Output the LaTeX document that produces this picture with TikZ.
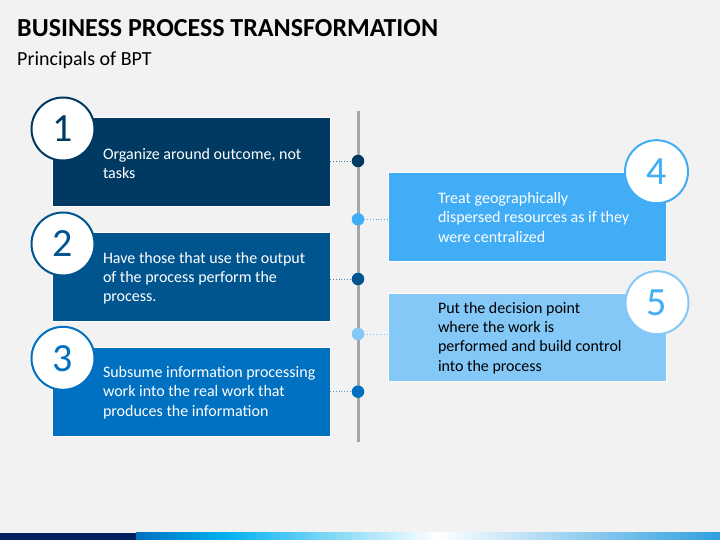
\documentclass[tikz,border=0pt]{standalone}
\usepackage{fontspec}
\setmainfont{Carlito}
\usepackage{tikz}
\usetikzlibrary{positioning}
\definecolor{bgray}{HTML}{F2F2F2}
\definecolor{navy}{HTML}{003A63}
\definecolor{midblue}{HTML}{00558F}
\definecolor{blue3}{HTML}{0070C0}
\definecolor{sky}{HTML}{41ADF6}
\definecolor{pale}{HTML}{84C8F8}
\definecolor{spinegray}{HTML}{A6A6A6}
\definecolor{bardark}{HTML}{002060}
\definecolor{barcyan}{HTML}{00B0F0}
\definecolor{barend}{HTML}{2E9FE0}
\begin{document}
\begin{tikzpicture}[x=1pt,y=-1pt,
		stepbox/.style={rectangle,draw=white,line width=0.4pt,minimum width=278pt,minimum height=89pt,inner sep=0pt},
		boxtxt/.style={align=left,inner sep=0pt,text=white,font=\fontsize{16}{19.3}\selectfont},
		numcirc/.style={circle,fill=white,draw=#1,text=#1,line width=2pt,minimum size=63pt,inner sep=0pt,font=\fontsize{40}{40}\selectfont},
		spinedot/.style={circle,minimum size=12.5pt,inner sep=0pt},
		link/.style={dotted,line width=0.8pt}]
	\fill[bgray] (0,0) rectangle (720,540);
	\useasboundingbox (0,0) rectangle (720,540);
	\node[anchor=base west,inner sep=0pt,font=\fontsize{26}{30}\selectfont\bfseries] (title) at (17,36.5) {BUSINESS PROCESS TRANSFORMATION};
	\node[anchor=base west,inner sep=0pt,font=\fontsize{20}{24}\selectfont] (subtitle) at (17,65.5) {Principals of BPT};
	\coordinate (spinetop) at (358,111);
	\coordinate (spinebot) at (358,442);
	\draw[spinegray,line width=3pt] (spinetop) -- (spinebot);
	\node[stepbox,fill=navy] (box1) at (191,162.2) {};
	\node[stepbox,fill=midblue] (box2) at (191,276.8) {};
	\node[stepbox,fill=blue3] (box3) at (191,391.7) {};
	\node[stepbox,fill=sky] (box4) at (527,216.5) {};
	\node[stepbox,fill=pale,minimum height=87.5pt] (box5) at (527,337) {};
	\node[boxtxt,right=51pt of box1.west,yshift=-1pt] (txt1) {Organize around outcome, not\\tasks};
	\node[boxtxt,right=51pt of box2.west,yshift=-1.5pt] (txt2) {Have those that use the output\\of the process perform the\\process.};
	\node[boxtxt,right=51pt of box3.west,yshift=-1pt] (txt3) {Subsume information processing\\work into the real work that\\produces the information};
	\node[boxtxt,right=50pt of box4.west,yshift=-1pt] (txt4) {Treat geographically\\dispersed resources as if they\\were centralized};
	\node[boxtxt,text=black,right=50pt of box5.west,yshift=-1pt] (txt5) {Put the decision point\\where the work is\\performed and build control\\into the process};
	\node[numcirc=navy] (num1) at (63,129) {1};
	\node[numcirc=midblue] (num2) at (63,244) {2};
	\node[numcirc=blue3] (num3) at (63,358.3) {3};
	\node[numcirc=sky] (num4) at (656.5,171.7) {4};
	\node[numcirc=pale,text=sky] (num5) at (657,302.7) {5};
	\node[spinedot,fill=navy] (dot1) at (358,161) {};
	\node[spinedot,fill=sky] (dot4) at (358,219.3) {};
	\node[spinedot,fill=midblue] (dot2) at (358,279) {};
	\node[spinedot,fill=pale] (dot5) at (358,334) {};
	\node[spinedot,fill=blue3] (dot3) at (358,391.7) {};
	\draw[link,navy!70] (box1.east |- dot1) -- (dot1);
	\draw[link,midblue!70] (box2.east |- dot2) -- (dot2);
	\draw[link,blue3!70] (box3.east |- dot3) -- (dot3);
	\draw[link,sky] (dot4) -- (box4.west |- dot4);
	\draw[link,pale] (dot5) -- (box5.west |- dot5);
	\fill[bardark] (0,532.5) rectangle (136,540);
	\shade[left color=blue3,right color=barcyan] (136,532.5) rectangle (223,540);
	\shade[left color=barcyan,right color=white] (223,532.5) rectangle (437,540);
	\shade[left color=white,right color=barend] (437,532.5) rectangle (720,540);
\end{tikzpicture}
\end{document}
